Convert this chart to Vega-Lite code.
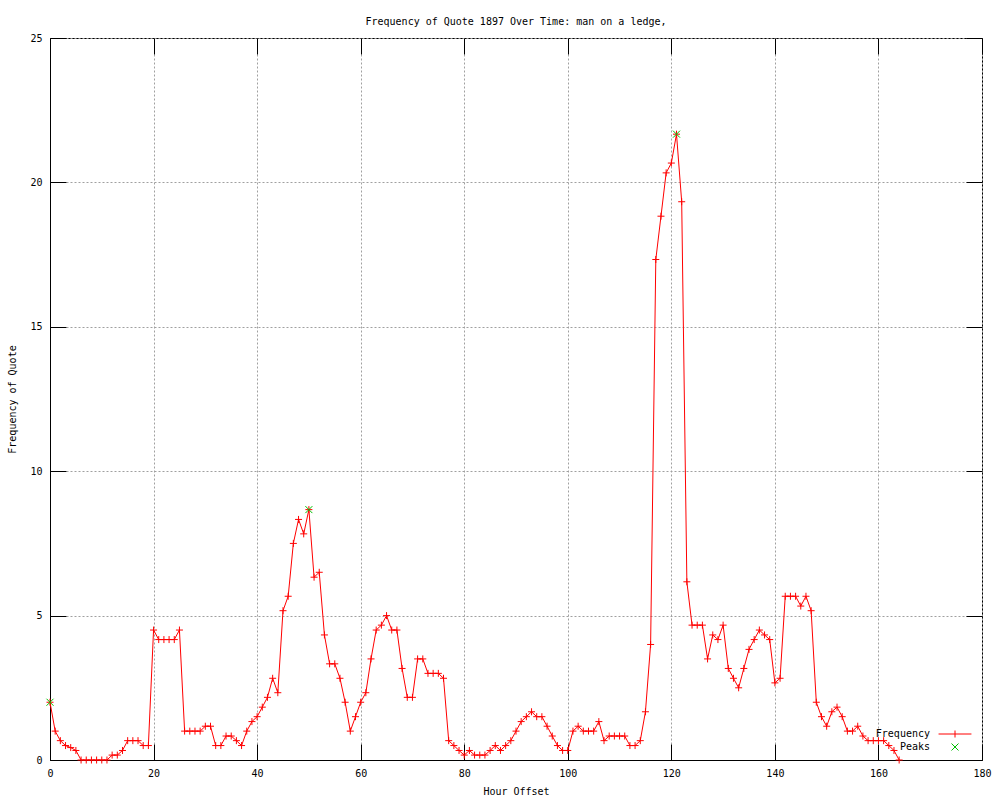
{
  "$schema": "https://vega.github.io/schema/vega-lite/v6.json",
  "width": 932,
  "height": 722,
  "autosize": {"type": "none"},
  "padding": {"left": 50, "top": 38, "right": 18, "bottom": 40},
  "background": "#ffffff",
  "title": {
    "text": "Frequency of Quote 1897 Over Time: man on a ledge,",
    "font": "DejaVu Sans Mono",
    "fontSize": 10,
    "fontWeight": "normal",
    "color": "#000000",
    "anchor": "middle",
    "frame": "group",
    "baseline": "alphabetic",
    "offset": -2
  },
  "config": {
    "view": {"stroke": "#000000", "strokeWidth": 1},
    "axis": {
      "domainColor": "#000000",
      "tickColor": "#000000",
      "tickSize": -16,
      "tickWidth": 1,
      "labelPadding": 24,
      "labelFont": "DejaVu Sans Mono",
      "labelFontSize": 10,
      "labelColor": "#000000",
      "titleFont": "DejaVu Sans Mono",
      "titleFontSize": 10,
      "titleFontWeight": "normal",
      "titleColor": "#000000",
      "gridColor": "#a0a0a0",
      "gridDash": [2, 2],
      "gridWidth": 1,
      "gridOpacity": 1
    },
    "legend": {
      "labelFont": "DejaVu Sans Mono",
      "labelFontSize": 10,
      "labelColor": "#000000"
    }
  },
  "datasets": {
    "freq": [
      {"h":0,"v":2.0},{"h":1,"v":1.0},{"h":2,"v":0.67},{"h":3,"v":0.5},{"h":4,"v":0.43},{"h":5,"v":0.33},{"h":6,"v":0},{"h":7,"v":0},{"h":8,"v":0},{"h":9,"v":0},
      {"h":10,"v":0},{"h":11,"v":0},{"h":12,"v":0.17},{"h":13,"v":0.17},{"h":14,"v":0.33},{"h":15,"v":0.67},{"h":16,"v":0.67},{"h":17,"v":0.67},{"h":18,"v":0.5},{"h":19,"v":0.5},
      {"h":20,"v":4.5},{"h":21,"v":4.17},{"h":22,"v":4.17},{"h":23,"v":4.17},{"h":24,"v":4.17},{"h":25,"v":4.5},{"h":26,"v":1.0},{"h":27,"v":1.0},{"h":28,"v":1.0},{"h":29,"v":1.0},
      {"h":30,"v":1.17},{"h":31,"v":1.17},{"h":32,"v":0.5},{"h":33,"v":0.5},{"h":34,"v":0.83},{"h":35,"v":0.83},{"h":36,"v":0.67},{"h":37,"v":0.5},{"h":38,"v":1.0},{"h":39,"v":1.33},
      {"h":40,"v":1.5},{"h":41,"v":1.83},{"h":42,"v":2.17},{"h":43,"v":2.83},{"h":44,"v":2.33},{"h":45,"v":5.17},{"h":46,"v":5.67},{"h":47,"v":7.5},{"h":48,"v":8.33},{"h":49,"v":7.83},
      {"h":50,"v":8.67},{"h":51,"v":6.33},{"h":52,"v":6.5},{"h":53,"v":4.33},{"h":54,"v":3.33},{"h":55,"v":3.33},{"h":56,"v":2.83},{"h":57,"v":2.0},{"h":58,"v":1.0},{"h":59,"v":1.5},
      {"h":60,"v":2.0},{"h":61,"v":2.33},{"h":62,"v":3.5},{"h":63,"v":4.5},{"h":64,"v":4.67},{"h":65,"v":5.0},{"h":66,"v":4.5},{"h":67,"v":4.5},{"h":68,"v":3.17},{"h":69,"v":2.17},
      {"h":70,"v":2.17},{"h":71,"v":3.5},{"h":72,"v":3.5},{"h":73,"v":3.0},{"h":74,"v":3.0},{"h":75,"v":3.0},{"h":76,"v":2.83},{"h":77,"v":0.67},{"h":78,"v":0.5},{"h":79,"v":0.33},
      {"h":80,"v":0.17},{"h":81,"v":0.33},{"h":82,"v":0.17},{"h":83,"v":0.17},{"h":84,"v":0.17},{"h":85,"v":0.33},{"h":86,"v":0.5},{"h":87,"v":0.33},{"h":88,"v":0.5},{"h":89,"v":0.67},
      {"h":90,"v":1.0},{"h":91,"v":1.33},{"h":92,"v":1.5},{"h":93,"v":1.67},{"h":94,"v":1.5},{"h":95,"v":1.5},{"h":96,"v":1.17},{"h":97,"v":0.83},{"h":98,"v":0.5},{"h":99,"v":0.33},
      {"h":100,"v":0.33},{"h":101,"v":1.0},{"h":102,"v":1.17},{"h":103,"v":1.0},{"h":104,"v":1.0},{"h":105,"v":1.0},{"h":106,"v":1.33},{"h":107,"v":0.67},{"h":108,"v":0.83},{"h":109,"v":0.83},
      {"h":110,"v":0.83},{"h":111,"v":0.83},{"h":112,"v":0.5},{"h":113,"v":0.5},{"h":114,"v":0.67},{"h":115,"v":1.67},{"h":116,"v":4.0},{"h":117,"v":17.33},{"h":118,"v":18.83},{"h":119,"v":20.33},
      {"h":120,"v":20.67},{"h":121,"v":21.67},{"h":122,"v":19.33},{"h":123,"v":6.17},{"h":124,"v":4.67},{"h":125,"v":4.67},{"h":126,"v":4.67},{"h":127,"v":3.5},{"h":128,"v":4.33},{"h":129,"v":4.17},
      {"h":130,"v":4.67},{"h":131,"v":3.17},{"h":132,"v":2.83},{"h":133,"v":2.5},{"h":134,"v":3.17},{"h":135,"v":3.83},{"h":136,"v":4.17},{"h":137,"v":4.5},{"h":138,"v":4.33},{"h":139,"v":4.17},
      {"h":140,"v":2.67},{"h":141,"v":2.83},{"h":142,"v":5.67},{"h":143,"v":5.67},{"h":144,"v":5.67},{"h":145,"v":5.33},{"h":146,"v":5.67},{"h":147,"v":5.17},{"h":148,"v":2.0},{"h":149,"v":1.5},
      {"h":150,"v":1.17},{"h":151,"v":1.67},{"h":152,"v":1.83},{"h":153,"v":1.5},{"h":154,"v":1.0},{"h":155,"v":1.0},{"h":156,"v":1.17},{"h":157,"v":0.83},{"h":158,"v":0.67},{"h":159,"v":0.67},
      {"h":160,"v":0.67},{"h":161,"v":0.67},{"h":162,"v":0.5},{"h":163,"v":0.33},{"h":164,"v":0}
    ],
    "peaks": [
      {"h":0,"v":2.0},{"h":50,"v":8.67},{"h":121,"v":21.67}
    ]
  },
  "resolve": {"axis": {"x": "independent", "y": "independent"}},
  "layer": [
    {
      "data": {"name": "freq"},
      "mark": {"type": "line", "color": "#ff0000", "strokeWidth": 1, "interpolate": "linear"},
      "encoding": {
        "x": {
          "field": "h", "type": "quantitative",
          "scale": {"domain": [0, 180], "nice": false, "zero": false},
          "axis": {"orient": "bottom", "values": [0,20,40,60,80,100,120,140,160,180], "title": "Hour Offset", "grid": true, "titlePadding": 8, "labelFlush": false}
        },
        "y": {
          "field": "v", "type": "quantitative",
          "scale": {"domain": [0, 25], "nice": false, "zero": false},
          "axis": {"orient": "left", "values": [0,5,10,15,20,25], "title": "Frequency of Quote", "grid": true, "titlePadding": 12, "labelFlush": false}
        }
      }
    },
    {
      "data": {"name": "freq"},
      "mark": {"type": "point", "shape": "M-1,0L1,0M0,-1L0,1", "size": 49, "filled": false, "strokeWidth": 1, "opacity": 1},
      "encoding": {
        "x": {"field": "h", "type": "quantitative", "axis": null},
        "y": {"field": "v", "type": "quantitative", "axis": null},
        "color": {
          "datum": "Frequency",
          "scale": {"domain": ["Frequency"], "range": ["#ff0000"]},
          "legend": {
            "title": null,
            "orient": "none",
            "legendX": 900,
            "legendY": 691,
            "direction": "vertical",
            "labelAlign": "right",
            "labelOffset": -30,
            "rowPadding": 1,
            "symbolType": "M-4.7,0L4.7,0M0,-1L0,1",
            "symbolSize": 49,
            "symbolStrokeWidth": 1,
            "symbolOpacity": 1
          }
        }
      }
    },
    {
      "data": {"name": "peaks"},
      "mark": {"type": "point", "shape": "M-1,-1L1,1M1,-1L-1,1", "size": 49, "filled": false, "strokeWidth": 1, "opacity": 1},
      "encoding": {
        "x": {"field": "h", "type": "quantitative", "axis": {"orient": "top", "values": [0,20,40,60,80,100,120,140,160,180], "labels": false, "title": null, "grid": false, "domain": false}},
        "y": {"field": "v", "type": "quantitative", "axis": {"orient": "right", "values": [0,5,10,15,20,25], "labels": false, "title": null, "grid": false, "domain": false}},
        "stroke": {
          "datum": "Peaks",
          "scale": {"domain": ["Peaks"], "range": ["#00c000"]},
          "legend": {
            "title": null,
            "orient": "none",
            "legendX": 900,
            "legendY": 704,
            "direction": "vertical",
            "labelAlign": "right",
            "labelOffset": -30,
            "rowPadding": 1,
            "symbolType": "M-1,-1L1,1M1,-1L-1,1",
            "symbolSize": 49,
            "symbolStrokeWidth": 1,
            "symbolOpacity": 1
          }
        }
      }
    }
  ]
}
